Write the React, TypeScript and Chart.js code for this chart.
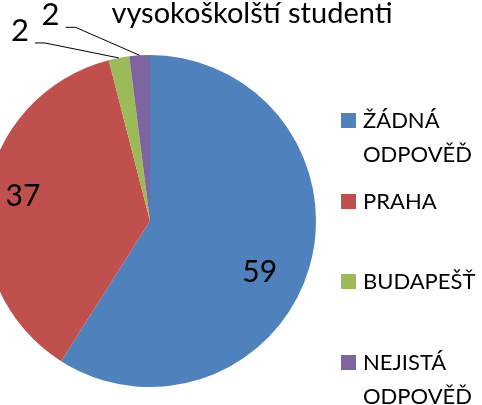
import React, { useEffect, useRef } from "react";
import { Chart, registerables } from "chart.js";
Chart.register(...registerables);

const titleText = "vysokoškolští studenti";
const categories = ["ŽÁDNÁ ODPOVĚĎ", "PRAHA", "BUDAPEŠŤ", "NEJISTÁ ODPOVĚĎ"];
const legendLines = [["ŽÁDNÁ", "ODPOVĚĎ"], ["PRAHA"], ["BUDAPEŠŤ"], ["NEJISTÁ", "ODPOVĚĎ"]];
const values = [59, 37, 2, 2];
const colors = ["#4F81BD", "#C0504D", "#9BBB59", "#8064A2"];

const SHIFT = 40; // canvas is shifted left so the pie can overflow the page edge
const FONT = "Lato, 'Liberation Sans', sans-serif";

const overlayPlugin = {
  id: "overlay",
  afterDraw(chart: any) {
    const ctx = chart.ctx as CanvasRenderingContext2D;
    const meta = chart.getDatasetMeta(0);
    ctx.save();
    ctx.fillStyle = "#000";
    // title
    ctx.font = `29px ${FONT}`;
    ctx.textAlign = "center";
    ctx.textBaseline = "alphabetic";
    ctx.fillText(titleText, 252 + SHIFT, 23);

    // data labels
    const inside: Record<number, { f: number; da: number }> = {
      0: { f: 0.73, da: 9 },
      1: { f: 0.78, da: 2 },
    };
    const outside: Record<number, { dx: number; dy: number }> = {
      2: { dx: -74, dy: -15 },
      3: { dx: -64, dy: -28 },
    };
    meta.data.forEach((arc: any, i: number) => {
      const p = arc.getProps(["x", "y", "startAngle", "endAngle", "outerRadius"], true);
      const mid = (p.startAngle + p.endAngle) / 2;
      ctx.font = `30px ${FONT}`;
      ctx.textBaseline = "middle";
      if (inside[i]) {
        const a = mid + (inside[i].da * Math.PI) / 180;
        const r = p.outerRadius * inside[i].f;
        ctx.textAlign = "center";
        ctx.fillText(String(values[i]), p.x + Math.cos(a) * r, p.y + Math.sin(a) * r);
      } else if (outside[i]) {
        const ex = p.x + Math.cos(mid) * p.outerRadius;
        const ey = p.y + Math.sin(mid) * p.outerRadius;
        const bx = ex + outside[i].dx;
        const by = ey + outside[i].dy;
        ctx.strokeStyle = "#000";
        ctx.lineWidth = 1;
        ctx.beginPath();
        ctx.moveTo(ex, ey);
        ctx.lineTo(bx, by);
        ctx.lineTo(bx - 10, by);
        ctx.stroke();
        ctx.font = `31px ${FONT}`;
        ctx.textAlign = "right";
        ctx.fillText(String(values[i]), bx - 16, by - 12);
      }
    });

    // legend
    const lx = 341 + SHIFT;
    const tops = [113, 194, 274, 355];
    ctx.font = `22px ${FONT}`;
    ctx.textAlign = "left";
    ctx.textBaseline = "alphabetic";
    legendLines.forEach((lines, i) => {
      ctx.fillStyle = colors[i];
      ctx.fillRect(lx, tops[i], 15, 15);
      ctx.fillStyle = "#000";
      lines.forEach((t, j) => {
        ctx.fillText(t, lx + 22, tops[i] + 15 + j * 34);
      });
    });
    ctx.restore();
  },
};

export default function App() {
  const ref = useRef<HTMLCanvasElement | null>(null);
  useEffect(() => {
    if (!ref.current) return;
    const chart = new Chart(ref.current, {
      type: "pie",
      data: {
        labels: categories,
        datasets: [
          {
            data: values,
            backgroundColor: colors,
            borderWidth: 0,
          },
        ],
      },
      options: {
        responsive: false,
        animation: false,
        layout: { padding: { left: 24, top: 55, right: 166, bottom: 18 } },
        plugins: {
          legend: { display: false },
          title: { display: false },
          tooltip: { enabled: false },
        },
      },
      plugins: [overlayPlugin],
    });
    return () => chart.destroy();
  }, []);
  return (
    <div
      style={{
        position: "fixed",
        left: 0,
        top: 0,
        width: 482,
        height: 405,
        overflow: "hidden",
        background: "#fff",
      }}
    >
      <canvas
        ref={ref}
        width={482 + SHIFT}
        height={405}
        style={{ position: "absolute", left: -SHIFT, top: 0, width: 482 + SHIFT, height: 405 }}
      />
    </div>
  );
}
